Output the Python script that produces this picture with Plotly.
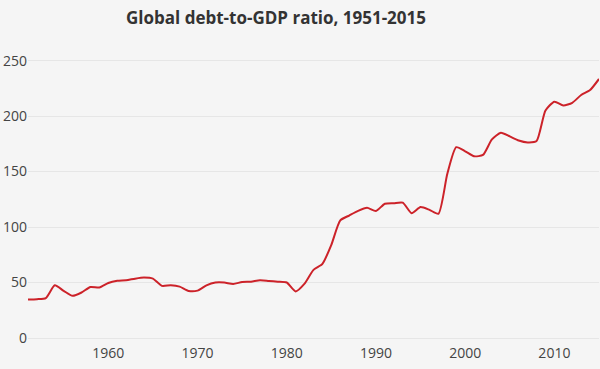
import plotly.graph_objects as go

years = list(range(1951, 2016))
debt_ratio = [
    34.6, 35, 36, 47.5, 42.5, 38, 41, 46, 45.5, 49.6,
    51.5, 52, 53.5, 54.5, 53.5, 47, 47.5, 46.3, 42.4, 42.7,
    47.5, 50, 50, 48.7, 50.5, 50.8, 52, 51.4, 50.8, 50,
    42, 49, 61.4, 66.8, 84, 106, 110.4, 114.6, 117.3, 114.5,
    121, 121.5, 122, 112.5, 118, 115.5, 112, 148, 172, 168.3,
    163.8, 165, 179, 185, 181.7, 178, 176.3, 177.5, 205, 213,
    209.5, 212, 219, 223.5, 233.5,
]
x_ticks = [1960, 1970, 1980, 1990, 2000, 2010]
y_ticks = [0, 50, 100, 150, 200, 250]
title_text = "Global debt-to-GDP ratio, 1951-2015"

fig = go.Figure()
fig.add_trace(go.Scatter(
    x=years, y=debt_ratio, mode="lines",
    line=dict(color="#cc2229", width=2, shape="spline", smoothing=0.6),
    hoverinfo="x+y", showlegend=False,
))

fig.update_layout(
    width=600, height=369,
    paper_bgcolor="#f5f5f5", plot_bgcolor="#f5f5f5",
    margin=dict(l=28, r=1, t=44, b=31),
    title=dict(text="<b>" + title_text + "</b>", x=0.46, xanchor="center",
               xref="container", y=1 - 18 / 369, yref="container",
               yanchor="middle",
               font=dict(family="Open Sans", size=17, color="#333333")),
    font=dict(family="Open Sans", size=14, color="#444444"),
    xaxis=dict(range=[1951, 2015], tickvals=x_ticks, showgrid=False,
               zeroline=False, showline=False, ticks="", automargin=False,
               ticklabelstandoff=5),
    yaxis=dict(range=[0, 265], tickvals=y_ticks, showgrid=True,
               gridcolor="#e6e6e6", gridwidth=1, zeroline=True,
               zerolinecolor="#e6e6e6", zerolinewidth=1, ticks="",
               automargin=False),
)

fig.write_html("out.html", config={"displayModeBar": False},
               post_script="document.body.style.margin='0';"
                           "document.body.style.background='#f5f5f5';")
